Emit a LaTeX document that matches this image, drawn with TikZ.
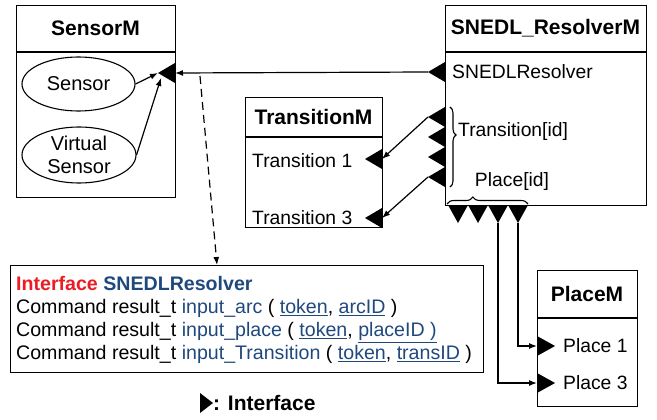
\documentclass[tikz,border=0pt]{standalone}
\usepackage{fontspec}
\setmainfont{Liberation Sans}
\usetikzlibrary{arrows.meta,shapes.geometric,decorations.pathreplacing}
\definecolor{ired}{RGB}{235,28,36}
\definecolor{iblue}{RGB}{31,73,125}
\begin{document}
\begin{tikzpicture}[x=1pt,y=-1pt,
  box/.style={draw, line width=1.4pt, inner sep=0, anchor=north west},
  divider/.style={line width=1.4pt},
  title/.style={font=\fontsize{21}{24}\selectfont\bfseries, inner sep=0},
  lbl/.style={font=\fontsize{19.3}{23}\selectfont, inner sep=0, anchor=west},
  oval/.style={draw, ellipse, line width=1.1pt, inner sep=0, font=\fontsize{20}{23}\selectfont, align=center},
  arr/.style={-{Latex[length=8pt,width=6pt]}, line width=1.2pt},
  bracestyle/.style={line width=1.1pt, decorate},
  ltri/.pic={\fill (0,-10) -- (-17,0) -- (0,10) -- cycle;
             \coordinate (-tip) at (-17,0); \coordinate (-base) at (0,0);},
  rtri/.pic={\fill (0,-10) -- (18,0) -- (0,10) -- cycle;
             \coordinate (-tip) at (18,0); \coordinate (-base) at (0,0);},
  dtri/.pic={\fill (-10,0) -- (10,0) -- (0,18) -- cycle;
             \coordinate (-tip) at (0,18); \coordinate (-base) at (0,0);}
]
\useasboundingbox (0,0) rectangle (657,420);

% SensorM
\node[box, minimum width=159pt, minimum height=192pt] (sensorM) at (16,5) {};
\draw[divider] (16,52) -- (175,52);
\node[title] (sensorT) at (95.5,28) {SensorM};
\node[oval, minimum width=113pt, minimum height=54pt] (sensor) at (78.5,84) {Sensor};
\node[oval, minimum width=114pt, minimum height=56pt] (vsensor) at (79,155) {Virtual\\Sensor};
\pic (sI) at (175,73) {ltri};

% SNEDL_ResolverM
\node[box, minimum width=201pt, minimum height=200pt] (resolverM) at (445,5) {};
\draw[divider] (445,52) -- (646,52);
\node[title] (resolverT) at (545.5,28) {SNEDL\_ResolverM};
\pic (rI) at (445,72) {ltri};
\node[lbl] (rIlbl) at (452,72) {SNEDLResolver};
\pic (t1) at (445,117) {ltri};
\pic (t2) at (445,137) {ltri};
\pic (t3) at (445,157) {ltri};
\pic (t4) at (445,177) {ltri};
\draw[bracestyle, decoration={brace, amplitude=6pt, aspect=0.35}] (450,107) -- (450,187);
\node[lbl] (tlbl) at (458,132) {Transition[id]};
\pic (p1) at (458,205) {dtri};
\pic (p2) at (478,205) {dtri};
\pic (p3) at (498,205) {dtri};
\pic (p4) at (518,205) {dtri};
\draw[bracestyle, decoration={brace, amplitude=7pt, aspect=0.32}] (447,204) -- (528,204);
\node[lbl, anchor=center] (plbl) at (512,182) {Place[id]};

% TransitionM
\node[box, minimum width=137pt, minimum height=130pt] (transM) at (245,97) {};
\draw[divider] (245,137) -- (382,137);
\node[title] (transT) at (313.5,117) {TransitionM};
\node[lbl] (tr1) at (252,161) {Transition 1};
\node[lbl] (tr3) at (252,218) {Transition 3};
\pic (tr1I) at (382,159) {ltri};
\pic (tr3I) at (382,218) {ltri};

% PlaceM
\node[box, minimum width=100pt, minimum height=136pt] (placeM) at (537,270) {};
\draw[divider] (537,318) -- (637,318);
\node[title] (placeT) at (587,294) {PlaceM};
\pic (pl1I) at (537,346) {rtri};
\pic (pl3I) at (537,383) {rtri};
\node[lbl] (pl1) at (563,346) {Place 1};
\node[lbl] (pl3) at (563,383) {Place 3};

% Interface box
\node[box, minimum width=473pt, minimum height=107pt] (iface) at (10,265) {};
\node[inner sep=0, anchor=north west, align=left, font=\fontsize{19.6}{23}\selectfont] (ifaceText) at (16,276)
 {{\color{ired}\bfseries Interface} {\color{iblue}\bfseries SNEDLResolver}\\
  Command result\_t {\color{iblue}input\_arc} ( {\color{iblue}\underline{token}}, {\color{iblue}\underline{arcID}} )\\
  Command result\_t {\color{iblue}input\_place} ( {\color{iblue}\underline{token}}, {\color{iblue}\underline{placeID )}}\\
  Command result\_t {\color{iblue}input\_Transition} ( {\color{iblue}\underline{token}}, {\color{iblue}\underline{transID}} )};

% legend
\fill (200,393) -- (213,403) -- (200,413) -- cycle;
\node[inner sep=0, anchor=west, font=\fontsize{21}{24}\selectfont\bfseries] (legend) at (213,403) {: Interface};

% connectors
\draw[arr] (sensor.east) -- (sI-tip);
\draw[arr] (vsensor.east) -- ([shift={(3,5)}]sI-tip);
\draw[arr] (rI-tip) -- (sI-base);
\coordinate (dstart) at (200,76);
\coordinate (dend) at (217,265);
\draw[arr, dashed, dash pattern=on 8pt off 5pt] (dstart) -- (dend);
\draw[arr] (t1-tip) -- (tr1I-base);
\draw[arr] (t4-tip) -- (tr3I-base);
\draw[arr] (p4-tip) |- (pl1I-base);
\draw[arr] (p3-tip) |- (pl3I-base);
\end{tikzpicture}
\end{document}
